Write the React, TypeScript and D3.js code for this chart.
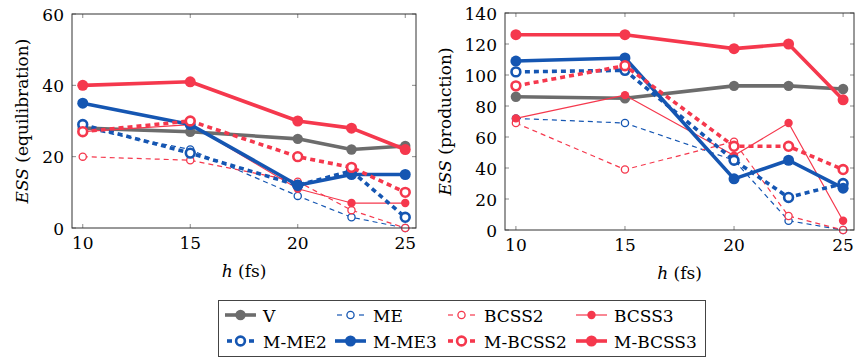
import React from "react";
import * as d3 from "d3";

// time step h (fs)
const hValues = [10, 15, 20, 22.5, 25];

const seriesNames = ["V", "ME", "BCSS2", "BCSS3", "M-ME2", "M-ME3", "M-BCSS2", "M-BCSS3"];

// ESS (equilibration)
const eqV = [28, 27, 25, 22, 23];
const eqME = [28, 22, 9, 3, 0];
const eqBCSS2 = [20, 19, 13, 5, 0];
const eqBCSS3 = [27, 29, 11, 7, 7];
const eqMME2 = [29, 21, 12, 16, 3];
const eqMME3 = [35, 29, 12, 15, 15];
const eqMBCSS2 = [27, 30, 20, 17, 10];
const eqMBCSS3 = [40, 41, 30, 28, 22];

// ESS (production)
const prV = [86, 85, 93, 93, 91];
const prME = [72, 69, 45, 6, 0];
const prBCSS2 = [69, 39, 57, 9, 0];
const prBCSS3 = [72, 87, 48, 69, 6];
const prMME2 = [102, 103, 45, 21, 30];
const prMME3 = [109, 111, 33, 45, 27];
const prMBCSS2 = [93, 106, 54, 54, 39];
const prMBCSS3 = [126, 126, 117, 120, 84];

const xTicks = [10, 15, 20, 25];
const eqYTicks = [0, 20, 40, 60];
const prYTicks = [0, 20, 40, 60, 80, 100, 120, 140];

const GRAY = "#6c6c6c";
const BLUE = "#1556b2";
const RED = "#f5384d";
const FONT = "DejaVu Serif";
const FS = 17;

type Style = { color: string; width: number; dash?: string; open: boolean; r: number; mw: number };

const styles: Record<string, Style> = {
  V: { color: GRAY, width: 3.6, open: false, r: 5.2, mw: 0 },
  ME: { color: BLUE, width: 1.2, dash: "5,4", open: true, r: 3.6, mw: 1.3 },
  BCSS2: { color: RED, width: 1.2, dash: "5,4", open: true, r: 3.6, mw: 1.3 },
  BCSS3: { color: RED, width: 1.2, open: false, r: 4.2, mw: 0 },
  "M-ME2": { color: BLUE, width: 3.6, dash: "5,4", open: true, r: 4.4, mw: 2.6 },
  "M-ME3": { color: BLUE, width: 3.6, open: false, r: 5.5, mw: 0 },
  "M-BCSS2": { color: RED, width: 3.6, dash: "5,4", open: true, r: 4.4, mw: 2.6 },
  "M-BCSS3": { color: RED, width: 3.6, open: false, r: 5.5, mw: 0 },
};

const panels = [
  {
    label: "(equilibration)",
    yMax: 60,
    yTicks: eqYTicks,
    frame: { x0: 72, x1: 416, y0: 14, y1: 228 },
    yLabelX: 28,
    values: [eqV, eqME, eqBCSS2, eqBCSS3, eqMME2, eqMME3, eqMBCSS2, eqMBCSS3],
  },
  {
    label: "(production)",
    yMax: 140,
    yTicks: prYTicks,
    frame: { x0: 505, x1: 854, y0: 13, y1: 230 },
    yLabelX: 451,
    values: [prV, prME, prBCSS2, prBCSS3, prMME2, prMME3, prMBCSS2, prMBCSS3],
  },
];

const txt = { fontSize: FS, fontFamily: FONT };

const Marker = ({ x, y, s }: { x: number; y: number; s: Style }) =>
  s.open ? (
    <circle cx={x} cy={y} r={s.r} fill="white" stroke={s.color} strokeWidth={s.mw} />
  ) : (
    <circle cx={x} cy={y} r={s.r} fill={s.color} />
  );

const Panel = ({ p }: { p: (typeof panels)[number] }) => {
  const { x0, x1, y0, y1 } = p.frame;
  const x = d3.scaleLinear().domain([9.5, 25.5]).range([x0, x1]);
  const y = d3.scaleLinear().domain([0, p.yMax]).range([y1, y0]);
  const line = d3
    .line<number>()
    .x((_, i) => x(hValues[i]))
    .y((d) => y(d));
  const tickLen = 4;
  return (
    <g>
      {/* ticks */}
      {xTicks.map((t) => (
        <g key={"x" + t}>
          <line x1={x(t)} x2={x(t)} y1={y1} y2={y1 - tickLen} stroke="#8a8a8a" />
          <line x1={x(t)} x2={x(t)} y1={y0} y2={y0 + tickLen} stroke="#8a8a8a" />
          <text x={x(t)} y={y1 + 21} textAnchor="middle" style={txt}>
            {t}
          </text>
        </g>
      ))}
      {p.yTicks.map((t) => (
        <g key={"y" + t}>
          <line x1={x0} x2={x0 + tickLen} y1={y(t)} y2={y(t)} stroke="#8a8a8a" />
          <line x1={x1} x2={x1 - tickLen} y1={y(t)} y2={y(t)} stroke="#8a8a8a" />
          <text x={x0 - 8} y={y(t) + 6.5} textAnchor="end" style={txt}>
            {t}
          </text>
        </g>
      ))}
      {/* series */}
      {p.values.map((vals, si) => {
        const s = styles[seriesNames[si]];
        return (
          <g key={seriesNames[si]}>
            <path
              d={line(vals) || ""}
              fill="none"
              stroke={s.color}
              strokeWidth={s.width}
              strokeDasharray={s.dash}
              strokeLinejoin="round"
            />
            {vals.map((v, i) => (
              <Marker key={i} x={x(hValues[i])} y={y(v)} s={s} />
            ))}
          </g>
        );
      })}
      <rect x={x0} y={y0} width={x1 - x0} height={y1 - y0} fill="none" stroke="#333" strokeWidth={1} />
      {/* axis labels */}
      <text x={(x0 + x1) / 2} y={y1 + 49} textAnchor="middle" style={txt}>
        <tspan fontStyle="italic">h</tspan> (fs)
      </text>
      <text
        transform={`translate(${p.yLabelX},${(y0 + y1) / 2}) rotate(-90)`}
        textAnchor="middle"
        style={txt}
      >
        <tspan fontStyle="italic">ESS</tspan> {p.label}
      </text>
    </g>
  );
};

const Legend = () => {
  const colX = [263, 373, 484, 614];
  const rowY = [315, 341];
  return (
    <g>
      <rect x={218.5} y={300.5} width={487} height={56} fill="white" stroke="#444" strokeWidth={1} />
      {seriesNames.map((name, i) => {
        const s = styles[name];
        const tx = colX[i % 4];
        const ty = rowY[Math.floor(i / 4)];
        const sx0 = tx - 38;
        const sx1 = tx - 7;
        const dashed = !!s.dash;
        return (
          <g key={name}>
            {dashed ? (
              <>
                <line x1={sx0 + 2} x2={sx0 + 7} y1={ty} y2={ty} stroke={s.color} strokeWidth={s.width} />
                <line x1={sx1 - 7} x2={sx1 - 2} y1={ty} y2={ty} stroke={s.color} strokeWidth={s.width} />
              </>
            ) : (
              <line x1={sx0} x2={sx1} y1={ty} y2={ty} stroke={s.color} strokeWidth={s.width} />
            )}
            <Marker x={(sx0 + sx1) / 2} y={ty} s={s} />
            <text x={tx} y={ty + 7} style={txt}>
              {name}
            </text>
          </g>
        );
      })}
    </g>
  );
};

export default function App() {
  return (
    <svg
      width={855}
      height={358}
      style={{ position: "absolute", left: 0, top: 0, background: "white" }}
    >
      {panels.map((p) => (
        <Panel key={p.label} p={p} />
      ))}
      <Legend />
    </svg>
  );
}
